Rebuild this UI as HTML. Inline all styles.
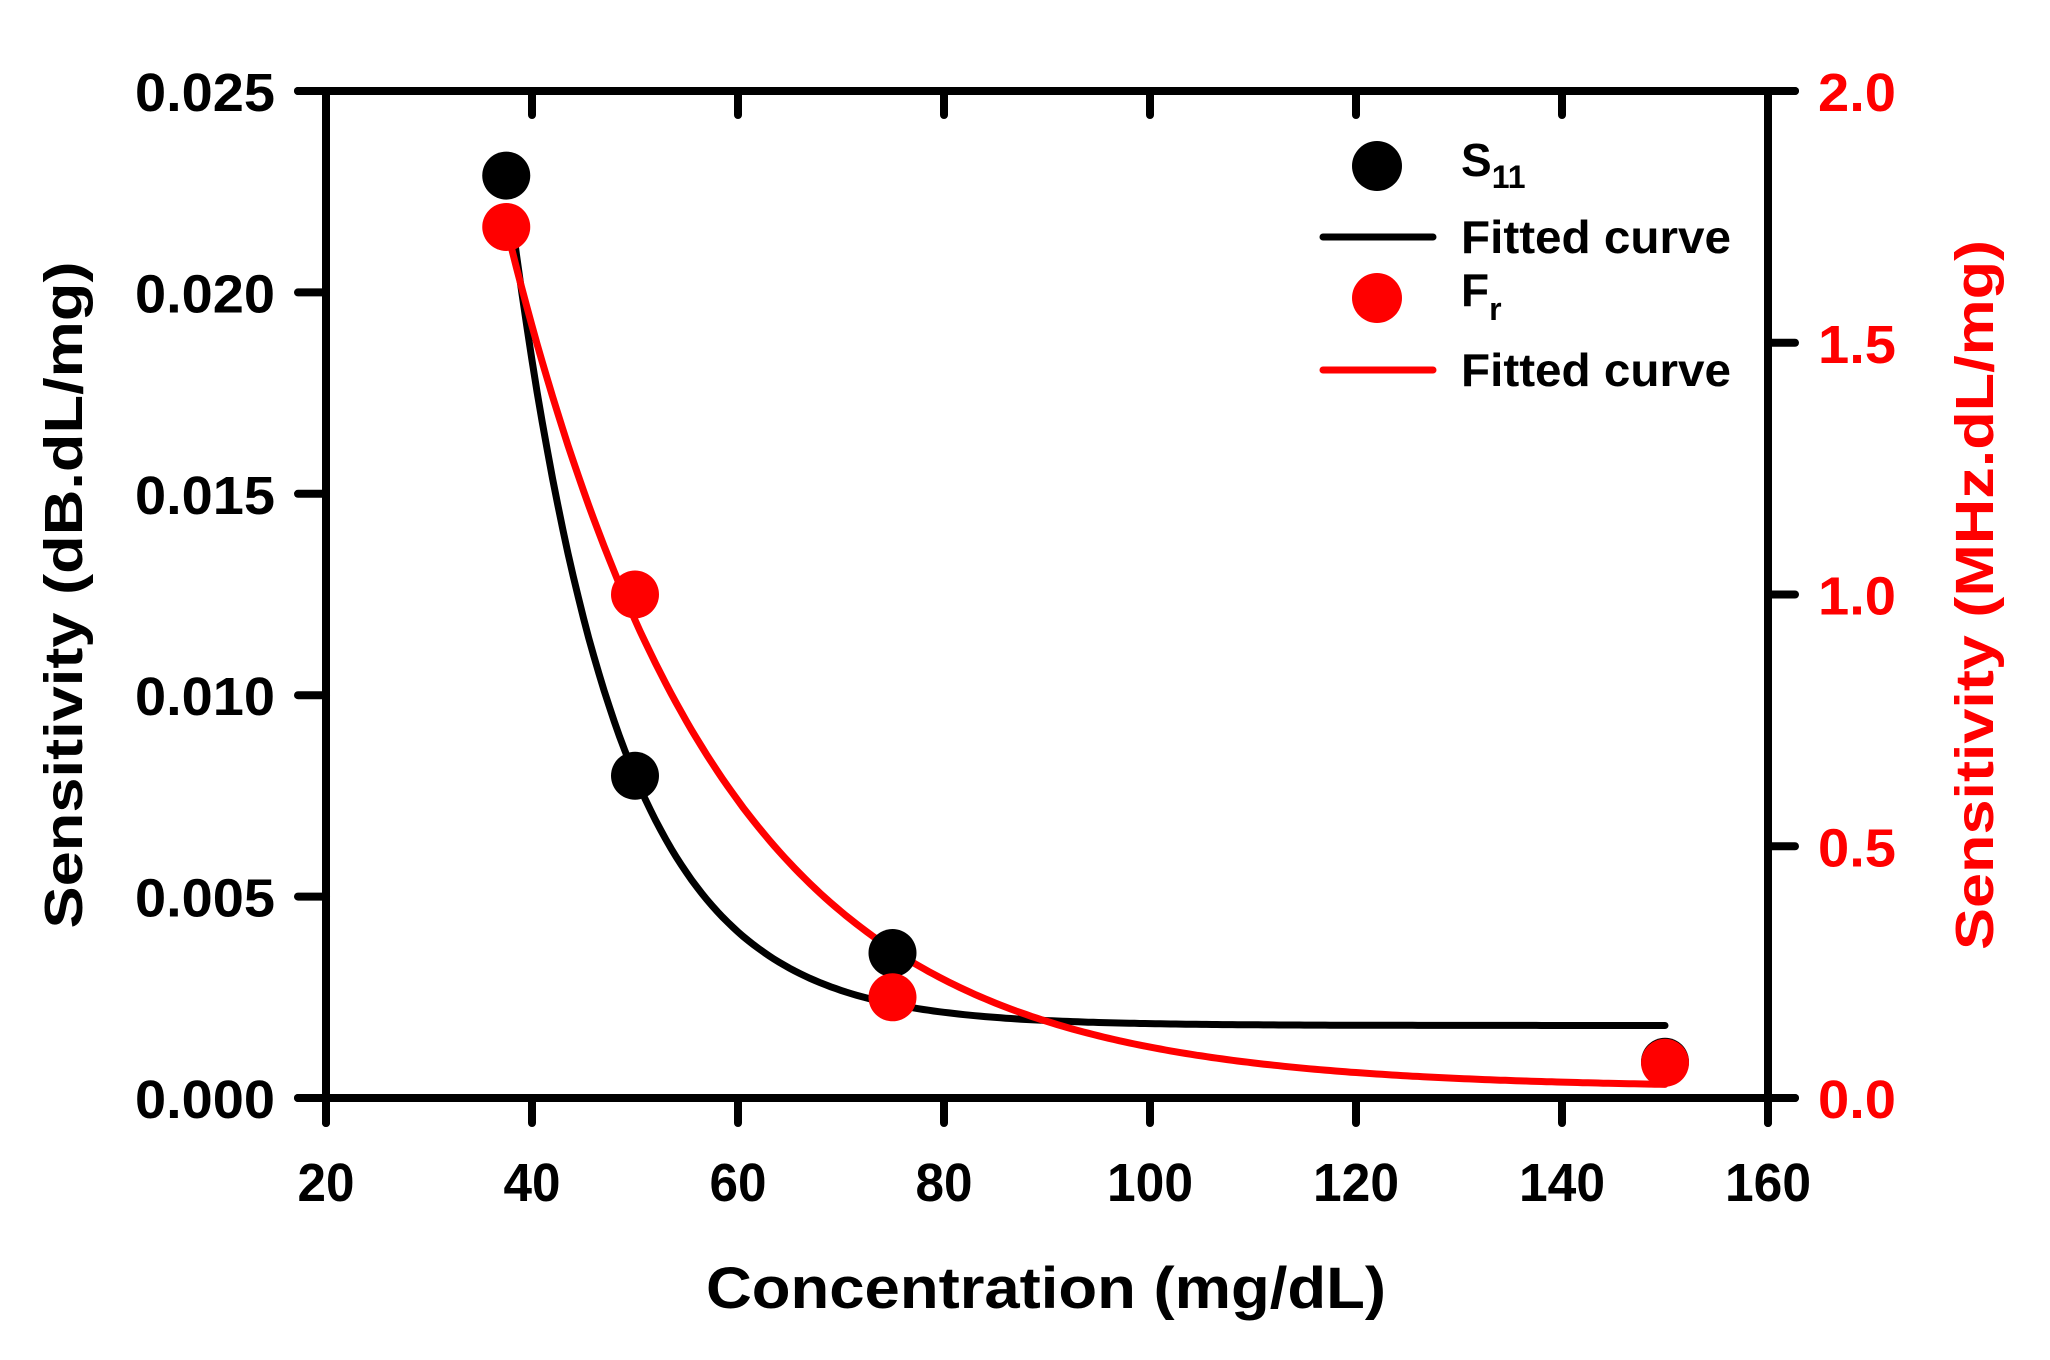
<!DOCTYPE html>
<html><head><meta charset="utf-8"><style>
html,body{margin:0;padding:0;background:#fff;}
svg{display:block;font-family:"Liberation Sans",Arial,sans-serif;font-weight:bold;}
</style></head><body>
<svg id="s" width="2050" height="1360" viewBox="0 0 2050 1360" xmlns="http://www.w3.org/2000/svg">
<rect width="2050" height="1360" fill="#fff"/>
<g stroke="#000" stroke-width="8" stroke-linecap="round" fill="none">
<line x1="298" y1="91" x2="1795" y2="91"/>
<line x1="298" y1="1098" x2="1795" y2="1098"/>
<line x1="326" y1="91" x2="326" y2="1123"/>
<line x1="1768" y1="91" x2="1768" y2="1123"/>
<g id="ticks"></g>
</g>
<g id="curves" fill="none" stroke-width="7" stroke-linecap="round"></g>
<g id="pts"></g>
<g id="labels" font-size="54"></g>
<text x="1046" y="1308" font-size="58" text-anchor="middle" textLength="680" lengthAdjust="spacingAndGlyphs">Concentration (mg/dL)</text>
<text transform="translate(82,595) rotate(-90)" font-size="54" text-anchor="middle" textLength="667" lengthAdjust="spacingAndGlyphs">Sensitivity (dB.dL/mg)</text>
<text transform="translate(1993,595) rotate(-90)" font-size="54" fill="#f00" text-anchor="middle" textLength="710" lengthAdjust="spacingAndGlyphs">Sensitivity (MHz.dL/mg)</text>
<circle cx="1377" cy="166" r="25" fill="#000"/>
<line x1="1323" y1="237" x2="1433" y2="237" stroke="#000" stroke-width="7" stroke-linecap="round"/>
<circle cx="1377" cy="298" r="25" fill="#f00"/>
<line x1="1323" y1="370" x2="1433" y2="370" stroke="#f00" stroke-width="7" stroke-linecap="round"/>
<text x="1461" y="176" font-size="46">S<tspan font-size="32" dy="12">11</tspan></text>
<text x="1461" y="253" font-size="46" textLength="270" lengthAdjust="spacingAndGlyphs">Fitted curve</text>
<text x="1461" y="306" font-size="46">F<tspan font-size="32" dy="14">r</tspan></text>
<text x="1461" y="386" font-size="46" textLength="270" lengthAdjust="spacingAndGlyphs">Fitted curve</text>
</svg>
<script>
var NS="http://www.w3.org/2000/svg";
function X(v){return 326+(v-20)*(1768-326)/140;}
function YL(v){return 1098-v*(1098-91)/0.025;}
function YR(v){return 1098-v*(1098-91)/2.0;}
function el(t,a,p,txt){var e=document.createElementNS(NS,t);for(var k in a)e.setAttribute(k,a[k]);if(txt!==undefined)e.textContent=txt;p.appendChild(e);return e;}
var tk=document.getElementById('ticks'),lb=document.getElementById('labels');
for(var x=20;x<=160;x+=20){var px=X(x);el('line',{x1:px,y1:91,x2:px,y2:115},tk);el('line',{x1:px,y1:1098,x2:px,y2:1123},tk);
el('text',{x:px,y:1201,'text-anchor':'middle',textLength:(x>=100?86:57),lengthAdjust:'spacingAndGlyphs'},lb,String(x));}
for(var i=0;i<=5;i++){var v=i*0.005,py=YL(v);el('line',{x1:298,y1:py,x2:326,y2:py},tk);
el('text',{x:275,y:py+20,'text-anchor':'end',textLength:140,lengthAdjust:'spacingAndGlyphs'},lb,v.toFixed(3));}
for(var i=0;i<=4;i++){var v=i*0.5,py=YR(v);el('line',{x1:1768,y1:py,x2:1795,y2:py},tk);
el('text',{x:1818,y:py+20,fill:'#f00',textLength:78,lengthAdjust:'spacingAndGlyphs'},lb,v.toFixed(1));}
var cv=document.getElementById('curves');
function path(f,Y,col){var d='';for(var x=38;x<=150;x+=0.5){d+=(d?'L':'M')+X(x).toFixed(1)+','+Y(f(x)).toFixed(1);}el('path',{d:d,stroke:col},cv);}
path(function(x){return 0.0018+0.0211*Math.exp(-(x-37.5)/10.2);},YL,'#000');
path(function(x){return 0.02+1.71*Math.exp(-(x-37.5)/20.5);},YR,'#f00');
var pg=document.getElementById('pts');
[[37.5,0.0229],[50,0.0080],[75,0.0036],[150,0.0009]].forEach(function(p){el('circle',{cx:X(p[0]),cy:YL(p[1]),r:24,fill:'#000'},pg);});
[[37.5,1.73],[50,1.0],[75,0.2],[150,0.07]].forEach(function(p){el('circle',{cx:X(p[0]),cy:YR(p[1]),r:24,fill:'#f00'},pg);});
</script>
</body></html>
